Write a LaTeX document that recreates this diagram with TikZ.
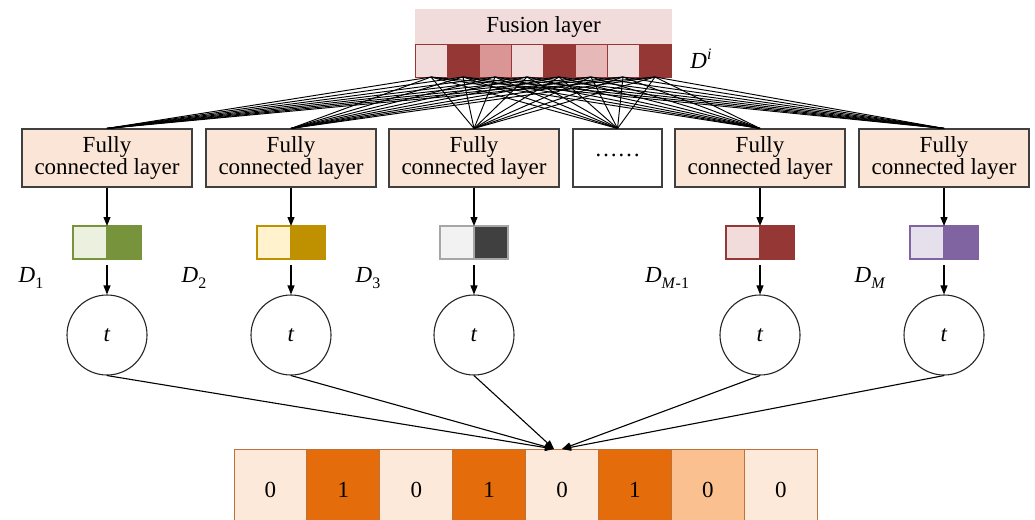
\documentclass[tikz,border=0pt]{standalone}
\usepackage{fontspec}
\setmainfont{Liberation Serif}
\usetikzlibrary{arrows.meta}
\definecolor{fcfill}{HTML}{FBE5D6}
\definecolor{fuslab}{HTML}{F2DCDB}
\definecolor{rL}{HTML}{F2DCDB}
\definecolor{rD}{HTML}{953735}
\definecolor{rM}{HTML}{D99694}
\definecolor{rP}{HTML}{E6B9B8}
\definecolor{gL}{HTML}{EBF1DE}
\definecolor{gD}{HTML}{77933C}
\definecolor{yL}{HTML}{FFF2CC}
\definecolor{yD}{HTML}{BF9000}
\definecolor{kL}{HTML}{F2F2F2}
\definecolor{kD}{HTML}{404040}
\definecolor{kB}{HTML}{A6A6A6}
\definecolor{pL}{HTML}{E6E0EC}
\definecolor{pD}{HTML}{8064A2}
\definecolor{oL}{HTML}{FDE9D9}
\definecolor{oD}{HTML}{E46C0A}
\definecolor{oM}{HTML}{FAC090}
\definecolor{oB}{HTML}{C0703A}
\newcommand{\Dlab}[1]{\textit{D}\raisebox{-0.28em}{\fontsize{16}{16}\selectfont #1}}
\begin{document}
\begin{tikzpicture}[x=1pt,y=-1pt,
  font=\fontsize{23}{20}\selectfont,
  fcbox/.style={draw=black!75, line width=1.1pt, fill=fcfill, minimum width=170pt,
    minimum height=58pt, align=center, inner sep=0pt},
  cellbox/.style 2 args={draw=#1, fill=#2, line width=1pt, minimum width=32pt,
    minimum height=32pt, inner sep=0pt, outer sep=0pt},
  sqbox/.style 2 args={draw=#1, fill=#2, line width=1.1pt, minimum width=34pt,
    minimum height=33pt, inner sep=0pt, outer sep=0pt},
  tcirc/.style={draw=black!85, circle, line width=1.1pt, minimum size=80pt, inner sep=0pt},
  outcell/.style={draw=oB, fill=#1, line width=1pt, minimum width=72.9pt,
    minimum height=81pt, inner sep=0pt, outer sep=0pt},
  fan/.style={draw=black, line width=0.95pt},
  arr/.style={draw=black, line width=1.1pt, -{Triangle[length=9pt,width=7pt]}},
  dl/.style={inner sep=0pt}
]
\clip (0,0) rectangle (1035,519);
\fill[white] (0,0) rectangle (1035,519);

% fusion layer
\node[fill=fuslab, minimum width=257pt, minimum height=35pt, inner sep=0pt] (fus) at (543.5,27) {Fusion layer};
\foreach \i/\c in {1/rL,2/rD,3/rM,4/rL,5/rD,6/rP,7/rL,8/rD}{
  \node[cellbox={rD}{\c}] (f\i) at ({415+16+32*(\i-1)},61) {};
}
\node[dl] (Di) at (701,59) {\textit{D}\raisebox{0.40em}{\fontsize{16}{16}\selectfont\textit{i}}};

% fully connected layers
\node[fcbox] (b1) at (107,158) {Fully\\connected layer};
\node[fcbox] (b2) at (291,158) {Fully\\connected layer};
\node[fcbox] (b3) at (474,158) {Fully\\connected layer};
\node[fcbox, fill=white, minimum width=89pt] (b4) at (617.5,158) {\raisebox{5pt}{……}};
\node[fcbox] (b5) at (760,158) {Fully\\connected layer};
\node[fcbox] (b6) at (944,158) {Fully\\connected layer};

% fan connections
\foreach \i in {1,...,8}{
  \foreach \b in {b1,b2,b3,b4,b5,b6}{
    \draw[fan] (f\i.south) -- (\b.north);
  }
}

% small output vectors
\foreach \n/\x/\bc/\lc/\dc in {1/107/gD/gL/gD, 2/291/yD/yL/yD, 3/474/kB/kL/kD, 5/760/rD/rL/rD, 6/944/pD/pL/pD}{
  \node[sqbox={\bc}{\lc}] (s\n a) at (\x-17,242.5) {};
  \node[sqbox={\bc}{\dc}] (s\n b) at (\x+17,242.5) {};
  \node[tcirc] (c\n) at (\x,335) {\textit{t}};
}
\foreach \n in {1,2,3,5,6}{
  \draw[arr] (b\n.south) -- (s\n a.north east);
  \draw[arr] ([yshift=-6pt]s\n a.south east) -- (c\n.north);
}

% labels
\node[dl] (d1) at (31,278) {\Dlab{1}};
\node[dl] (d2) at (194,278) {\Dlab{2}};
\node[dl] (d3) at (368,278) {\Dlab{3}};
\node[dl] (d5) at (667,278) {\Dlab{\textit{M}-1}};
\node[dl] (d6) at (870,278) {\Dlab{\textit{M}}};

% output array
\foreach \i/\c/\t in {1/oL/0,2/oD/1,3/oL/0,4/oD/1,5/oL/0,6/oD/1,7/oM/0,8/oL/0}{
  \node[outcell=\c] (o\i) at ({234+36.45+72.9*(\i-1)},489.5) {\t};
}
\coordinate (tipL) at (554,449);
\coordinate (tipR) at (562,449);
\foreach \n in {1,2,3}{ \draw[arr] (c\n.south) -- (tipL); }
\foreach \n in {5,6}{ \draw[arr] (c\n.south) -- (tipR); }
\end{tikzpicture}
\end{document}
